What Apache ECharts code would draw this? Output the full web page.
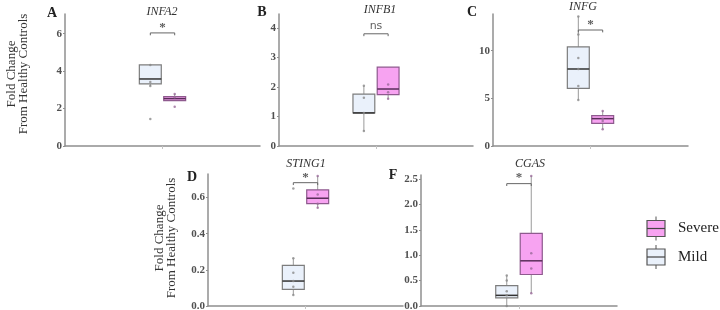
<!doctype html>
<html>
<head>
<meta charset="utf-8">
<title>Fold change boxplots</title>
<style>
html, body { margin: 0; padding: 0; background: #fff; }
#main { width: 720px; height: 310px; }
</style>
</head>
<body>
<div id="main"></div>
<script src="https://cdn.jsdelivr.net/npm/echarts@6/dist/echarts.min.js"></script>
<script>
var groups = ['Mild', 'Severe'];
var genes = ['INFA2', 'INFB1', 'INFG', 'STING1', 'CGAS'];
var letters = ['A', 'B', 'C', 'D', 'F'];

// box stats per group: [lower whisker, Q1, median, Q3, upper whisker]
var infa2Mild = [3.2, 3.32, 3.58, 4.33, 4.33];
var infa2Severe = [2.42, 2.42, 2.53, 2.64, 2.78];
var infb1Mild = [0.51, 1.12, 1.12, 1.76, 2.04];
var infb1Severe = [1.6, 1.74, 1.93, 2.67, 2.67];
var infgMild = [4.83, 6.05, 8.08, 10.4, 13.6];
var infgSevere = [1.75, 2.38, 2.87, 3.18, 3.67];
var sting1Mild = [0.061, 0.092, 0.138, 0.225, 0.264];
var sting1Severe = [0.544, 0.566, 0.596, 0.642, 0.719];
var cgasMild = [0.0, 0.16, 0.21, 0.40, 0.60];
var cgasSevere = [0.25, 0.62, 0.89, 1.43, 2.56];

// individual samples (incl. outliers)
var infa2MildPts = [4.33, 3.42, 3.2, 1.44];
var infa2SeverePts = [2.78, 2.6, 2.09];
var infb1MildPts = [2.04, 1.63, 1.12, 0.51];
var infb1SeverePts = [2.08, 1.82, 1.6];
var infgMildPts = [13.6, 11.7, 9.23, 8.08, 6.3, 4.83];
var infgSeverePts = [3.67, 2.87, 2.62, 1.75];
var sting1MildPts = [0.65, 0.264, 0.184, 0.138, 0.107, 0.061];
var sting1SeverePts = [0.719, 0.616, 0.566, 0.544];
var cgasMildPts = [0.6, 0.5, 0.29, 0.21, 0.0];
var cgasSeverePts = [2.56, 1.04, 0.74, 0.25];

// y scale and tick labels per panel
var yMax = [7.05, 4.47, 13.85, 0.73, 2.58];
var yTicks = [[0, 2, 4, 6], [0, 1, 2, 3, 4], [0, 5, 10], [0, 0.2, 0.4, 0.6], [0, 0.5, 1, 1.5, 2, 2.5]];
var yDecimals = [0, 0, 0, 1, 1];

// significance bracket height and label
var sigLevel = [6.04, 3.8, 12.17, 0.682, 2.41];
var sigText = ['*', 'ns', '*', '*', '*'];

var boxes = [
    [infa2Mild, infa2Severe], [infb1Mild, infb1Severe], [infgMild, infgSevere],
    [sting1Mild, sting1Severe], [cgasMild, cgasSevere]
];
var points = [
    [infa2MildPts, infa2SeverePts], [infb1MildPts, infb1SeverePts], [infgMildPts, infgSeverePts],
    [sting1MildPts, sting1SeverePts], [cgasMildPts, cgasSeverePts]
];

var layout = [
    { left: 65, top: 14, width: 195, height: 132, title: [162, 12], letter: [52, 13] },
    { left: 279, top: 14, width: 194, height: 132, title: [380, 10], letter: [262, 12] },
    { left: 493, top: 14, width: 195, height: 132, title: [583, 7], letter: [472, 12] },
    { left: 208, top: 174, width: 195, height: 132, title: [306, 164], letter: [192, 177] },
    { left: 421, top: 175, width: 196, height: 131, title: [530, 164], letter: [393, 175] }
];

var groupStyle = [
    { fill: '#eaf1fb', border: '#7d7d7d', median: '#333333', whisker: '#9a9a9a', dot: '#8a8a8a' },
    { fill: '#f7a3f1', border: '#8e5a8e', median: '#5a2f5a', whisker: '#9a9a9a', dot: '#9a6a9a' }
];

var serif = '"Liberation Serif", "DejaVu Serif", serif';
var axisColor = '#8f8f8f';

function groupX(g) {
    return g - 0.5;
}

function renderBox(params, api) {
    var x = api.value(0);
    var g = api.value(6);
    var st = groupStyle[g];
    var lo = api.coord([x, api.value(1)]);
    var q1 = api.coord([x, api.value(2)]);
    var med = api.coord([x, api.value(3)]);
    var q3 = api.coord([x, api.value(4)]);
    var hi = api.coord([x, api.value(5)]);
    var w = api.size([0.9, 0])[0];
    return {
        type: 'group',
        children: [
            { type: 'line', shape: { x1: lo[0], y1: lo[1], x2: q1[0], y2: q1[1] }, style: { stroke: st.whisker, lineWidth: 1 } },
            { type: 'line', shape: { x1: q3[0], y1: q3[1], x2: hi[0], y2: hi[1] }, style: { stroke: st.whisker, lineWidth: 1 } },
            { type: 'rect', shape: { x: q3[0] - w / 2, y: q3[1], width: w, height: Math.max(q1[1] - q3[1], 1) }, style: { fill: st.fill, stroke: st.border, lineWidth: 1.2 } },
            { type: 'line', shape: { x1: med[0] - w / 2, y1: med[1], x2: med[0] + w / 2, y2: med[1] }, style: { stroke: st.median, lineWidth: 1.5 } }
        ]
    };
}

var option = {
    animation: false,
    grid: [],
    xAxis: [],
    yAxis: [],
    series: [],
    graphic: []
};

genes.forEach(function (gene, i) {
    var L = layout[i];
    option.grid.push({ left: L.left, top: L.top, width: L.width, height: L.height, outerBoundsMode: 'none' });
    option.xAxis.push({
        type: 'value', gridIndex: i, min: -4, max: 4,
        axisLine: { show: true, onZero: false, lineStyle: { color: axisColor, width: 1.5 } },
        axisTick: { show: true, customValues: [0], length: 3, lineStyle: { color: '#c4c4c4' } },
        axisLabel: { show: false },
        splitLine: { show: false }
    });
    option.yAxis.push({
        type: 'value', gridIndex: i, min: 0, max: yMax[i],
        axisLine: { show: true, onZero: false, lineStyle: { color: axisColor, width: 1.5 } },
        axisTick: { show: true, customValues: yTicks[i], length: 2, lineStyle: { color: axisColor } },
        axisLabel: {
            customValues: yTicks[i],
            formatter: (function (d) { return function (v) { return v.toFixed(d); }; })(yDecimals[i]),
            fontFamily: serif, fontWeight: 'bold', fontSize: 11, color: '#505050', margin: 3
        },
        splitLine: { show: false }
    });

    var boxData = boxes[i].map(function (b, g) {
        return [groupX(g)].concat(b).concat([g]);
    });
    option.series.push({
        type: 'custom', xAxisIndex: i, yAxisIndex: i,
        renderItem: renderBox,
        encode: { x: 0, y: [1, 2, 3, 4, 5] },
        data: boxData,
        z: 2
    });

    var ptData = [];
    points[i].forEach(function (arr, g) {
        arr.forEach(function (v) {
            ptData.push({ value: [groupX(g), v], itemStyle: { color: groupStyle[g].dot } });
        });
    });
    option.series.push({
        type: 'scatter', xAxisIndex: i, yAxisIndex: i,
        symbolSize: 2.5, data: ptData, z: 3, silent: true
    });

    var lvl = sigLevel[i];
    var drop = yMax[i] * 0.018;
    option.series.push({
        type: 'line', xAxisIndex: i, yAxisIndex: i,
        data: [[groupX(0), lvl - drop], [groupX(0), lvl], [groupX(1), lvl], [groupX(1), lvl - drop]],
        symbol: 'none', lineStyle: { color: '#666', width: 1 }, silent: true, z: 4
    });
    var isNs = sigText[i] === 'ns';
    option.series.push({
        type: 'scatter', xAxisIndex: i, yAxisIndex: i,
        data: [[0, lvl]], symbolSize: 0, silent: true,
        label: {
            show: true, position: 'top', distance: isNs ? 2 : -1,
            formatter: sigText[i],
            fontFamily: isNs ? '"DejaVu Sans", sans-serif' : serif,
            fontWeight: isNs ? 'normal' : 'bold',
            fontSize: isNs ? 11 : 13, color: '#333'
        }
    });

    option.graphic.push({
        type: 'text', x: L.title[0], y: L.title[1],
        style: { text: gene, fontFamily: serif, fontStyle: 'italic', fontSize: 12, fill: '#333', textAlign: 'center', textVerticalAlign: 'middle' }
    });
    option.graphic.push({
        type: 'text', x: L.letter[0], y: L.letter[1],
        style: { text: letters[i], fontFamily: serif, fontWeight: 'bold', fontSize: 14, fill: '#222', textAlign: 'center', textVerticalAlign: 'middle' }
    });
});

// y axis titles for the two rows
[[18, 74], [166, 238]].forEach(function (pos) {
    option.graphic.push({
        type: 'text', x: pos[0], y: pos[1], rotation: Math.PI / 2,
        style: { text: 'Fold Change\nFrom Healthy Controls', fontFamily: serif, fontSize: 13, lineHeight: 12, fill: '#333', textAlign: 'center', textVerticalAlign: 'middle' }
    });
});

// legend drawn as small box glyphs
var legendItems = [{ name: 'Severe', g: 1, y: 228.5 }, { name: 'Mild', g: 0, y: 257 }];
legendItems.forEach(function (it) {
    var st = groupStyle[it.g];
    var cx = 656, top = it.y - 8, bot = it.y + 8;
    option.graphic.push({
        type: 'group',
        children: [
            { type: 'line', shape: { x1: cx, y1: top - 4, x2: cx, y2: top }, style: { stroke: '#555', lineWidth: 1 } },
            { type: 'line', shape: { x1: cx, y1: bot, x2: cx, y2: bot + 4 }, style: { stroke: '#555', lineWidth: 1 } },
            { type: 'rect', shape: { x: cx - 9, y: top, width: 18, height: bot - top }, style: { fill: st.fill, stroke: '#555', lineWidth: 1.2 } },
            { type: 'line', shape: { x1: cx - 9, y1: it.y, x2: cx + 9, y2: it.y }, style: { stroke: '#444', lineWidth: 1.2 } },
            { type: 'text', x: 678, y: it.y, style: { text: it.name, fontFamily: serif, fontSize: 15, fill: '#222', textVerticalAlign: 'middle' } }
        ]
    });
});

var chart = echarts.init(document.getElementById('main'));
chart.setOption(option);

window.addEventListener('resize', function () {
    chart.resize();
});
</script>
</body>
</html>
